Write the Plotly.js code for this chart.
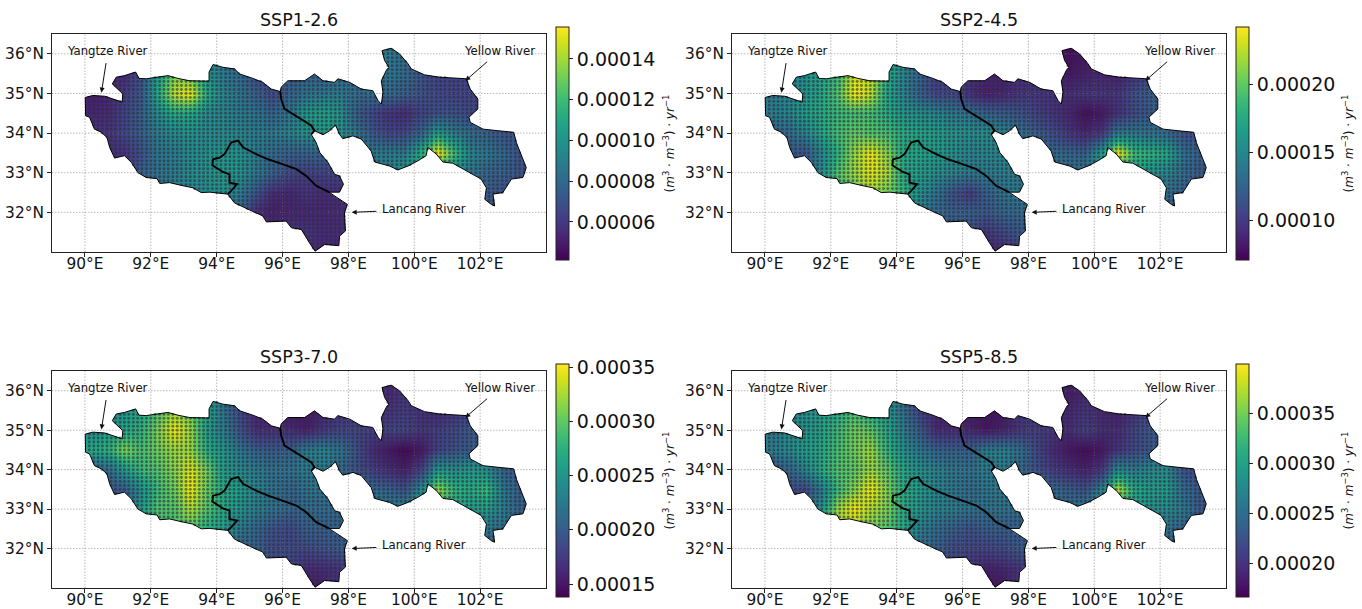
<!DOCTYPE html>
<html>
<head>
<meta charset="utf-8">
<script src="https://cdn.plot.ly/plotly-3.0.1.min.js"></script>
<style>html,body{margin:0;padding:0;background:#fff}#chart{width:1362px;height:609px}</style>
</head>
<body>
<div id="chart"></div>
<script>
var titles = ['SSP1-2.6','SSP2-4.5','SSP3-7.0','SSP5-8.5'];
var xTicks = [90,92,94,96,98,100,102];
var xLabels = ['90°E','92°E','94°E','96°E','98°E','100°E','102°E'];
var yTicks = [32,33,34,35,36];
var yLabels = ['32°N','33°N','34°N','35°N','36°N'];
var lonRange = [89,104];
var latRange = [31,36.5];

var cellLon = [90.2,90.7,91.2,91.7,92.2,92.7,93.2,93.7,94.2,94.7,95.2,95.7,96.2,96.7,97.2,97.7,98.2,98.7,99.2,99.7,100.2,100.7,101.2,101.7,102.2,102.7,103.2,103.7];
var cellLat = [31,31.5,32,32.5,33,33.5,34,34.5,35,35.5,36];

// values in units of 1e-5 (m3 m-3 yr-1), rows from south to north
var ssp126 = [
[8,8,8,8,8,8,8,8,8,8,7,6,5.8,5.5,5.3,5.5,6,7,7,7,7,7,7,7,7,7,7,7],
[8,8,8,8,8,8,8,8,8,8,7,5.8,5.8,5.8,5.5,5.5,6,7,7,7,7,7,7,7,7,7,7,7],
[8.5,9,9,9,9,9,9,9,9,7.6,5.5,5,5.3,5.3,5.3,5.5,5.5,6,7,7,7,7,7,7,7,7,7,7],
[5.5,5.5,6,7.5,8.5,9,9.3,9.6,9.9,8.9,7,5.5,5.3,5.8,5.5,5.5,6,7,8,9,9,9,8.7,8,7.3,7,7,7],
[5.5,5.5,6,7.6,8.5,8.9,9.6,9.9,10.1,9.9,8.7,7.6,6.6,6.2,6.4,6.6,7.5,8.5,8.9,10.4,9.9,11,9.3,8.7,7.8,7.6,7,7],
[5.5,5.5,5.7,7,8.5,8.9,9.6,9.9,10.1,9.9,8.9,8.1,7.6,7.8,7.8,8,8.5,8.9,8.9,8.9,11.5,15.5,12,9.3,8.7,7.9,7,7],
[5.8,5.8,6.6,7.6,8.9,9.6,9.9,9.6,9.5,9.3,8.9,8.9,9.3,9.9,10.2,10,8.7,7.3,6.4,6.6,7.8,10.5,8.9,8.1,7.6,7,7,7],
[5.3,5.5,6.4,7.6,9.6,11.2,11,9.6,9.3,8.9,8.5,7.8,8.7,10.2,10.6,10.2,7.6,6.6,5.8,5.5,6.4,7,7,6.6,6.4,6.4,6.4,6.4],
[5,5.3,6.2,7.3,11,14.4,15.2,11,9.3,8.5,7.6,6.6,7.8,8.5,8.7,8.9,8.1,8.1,8.1,7.6,7,6.6,6.4,6.4,6.4,6.4,6.4,6.4],
[5.3,5.3,5.5,7,10.4,13.3,12.7,9.9,8.7,8.1,6.7,6.6,7.3,7.6,7.6,8,8.1,8.5,8.7,8.1,7,6.4,6.4,6.4,6.4,6.4,6.4,6.4],
[5.3,5.5,6,7,10,13,12.5,9.9,8.7,8.1,7,7,7.5,7.6,7.6,8,8,8.5,8.7,8.1,7,6.4,6.4,6.4,6.4,6.4,6.4,6.4]
];
var ssp245 = [
[14,14,14,14,14,14,14,14,14,14,13,12,11,8.4,8.8,10,11,12,12,12,12,12,12,12,12,12,12,12],
[14,14,14,14,14,14,14,14,14,14,13,12,11.3,9.6,10.8,11.8,12,12,12,12,12,12,12,12,12,12,12,12],
[18,18,18,18,18,18,18,18,17,14,13,12.2,12.2,11.8,12.6,13,13,13,13,13,13,13,13,13,12.2,12,12,12],
[15,16,17,18,19,20,21.6,20.4,18.2,15.6,13.5,11.3,10,12.2,13.5,14,14,14,14,14,14,14,14,14,13,12.2,12,12],
[11,11,12,15.6,19.5,21.6,23.4,22,17.3,16.5,15.6,14.8,14,14.3,14.3,14.3,14,14,13,14,15,17,16.5,15.6,14.8,13,11.8,11.8],
[12,12,11.3,15,18,21.5,23.6,21,17.3,17,16.5,15.6,14.8,14.8,15,15,14,13,12.7,12.2,16.5,24,18.7,18.2,17.3,13.5,12.2,12.2],
[12.2,13,14.8,17.3,19,20,19.5,19,17.6,17,16.5,16,15.6,15.6,14.8,13.5,12,11,9.6,8.8,9.6,14,14,13.5,13,11.3,10.5,10.5],
[14.3,15,16.5,17.5,18.5,19,19,17.5,16,15.6,15,14,13.5,12.5,12,11.5,10.5,9.6,8.8,7.5,8,9.5,11,12,12,12,12,12],
[14,14.8,16,17.3,19.5,23.8,22.5,17,14.8,12.2,10.5,10.8,9.3,8.4,8.8,9.6,9.6,9.3,9.2,9.6,9.6,9.6,11.3,12.2,12,12,12,12],
[14,14.5,15.6,17,18.5,23,22.5,17.5,14.8,12.5,10,10,9.5,8.8,8.5,9,9,9,8,8.5,8.8,8.5,9.6,10.5,10,10,10,10],
[14,14,15,16,18,21,20,17,15,13,11,10,9,8.5,8.5,9,9,9,7.5,8,8.8,8.8,9,10,10,10,10,10]
];
var ssp370 = [
[25,25,25,25,25,25,25,25,25,24,22,20,18,15,15.5,17,19,20,20,20,20,20,20,20,20,20,20,20],
[25,25,25,25,25,25,25,25,25,24,22,20,18,16.4,16.4,17,19,20,20,20,20,20,20,20,20,20,20,20],
[25,26,27,28,28,28,28,28,26,20.7,20.3,18.5,18.5,18.5,19.2,19.8,20,20,20,21,21,21,21,21,20.3,20,20,20],
[24,25,26,27,28,29,29.4,27,26,22.4,20.7,19.2,18.5,20.3,20.3,20.3,21,21,22,23,24,25,24,23,22.4,21.3,20,20],
[20,20,21,25.6,29.4,29.4,32.7,29.4,26.7,25,22.8,22,20.7,21.3,21.3,21.3,22,23,22.8,23.5,25,28,26.7,25.6,25.6,22.8,20.3,20.3],
[20,19,19.8,24.5,28.4,30.5,34.6,30,26.7,25.6,23.5,22,20.7,22,22.4,22.4,22,21.3,20.7,19.2,24.5,32,27.8,27,28.4,22.4,20.3,20.3],
[20,21.3,25.6,28.4,29.4,31.4,34,30.5,25.6,24,22.8,22,22,22.8,22.8,21.3,19.2,17.7,16.4,15.5,18,25.6,24.5,25.6,24.5,20.3,19.2,19.2],
[26.7,27.8,31,28.9,30.5,32,32,27,25,22.4,20.3,20,20.3,22.8,23.5,22.4,19.2,16.4,15,14,15,18,19.2,20,20,20,20,20],
[24.5,25.6,26.7,27.8,31,34.7,32,25.6,22.8,19.2,16.4,16.6,16.4,15.5,17,18.1,18,17.7,18,18.1,17,17.7,18.5,19.8,20,20,20,20],
[22,23,25,26.5,29,32,30,26,22,18.5,16,15.5,15,15,16,17,17,16.5,17,17.5,16.5,16,17,18,18,18,18,18],
[22,23,24,26,29,32,31,26,22,19,16,15,14.9,15,16,17,17,16.5,16,17,17,17,17,17,17,17,17,17]
];
var ssp585 = [
[28,28,28,28,28,28,28,28,28,26,24,22,20,17.3,17.8,20,22,23,23,23,23,23,23,23,23,23,23,23],
[28,28,28,28,28,28,28,28,28,26,24,22,20,18.5,19,20,22,23,23,23,23,23,23,23,23,23,23,23],
[30,30,30,30,30,30,30,30,28,24.8,23.6,21.7,21.3,21.3,21.7,23,23,23,24,24,24,24,24,24,23.6,23,23,23],
[30,32,34,36,37,36,34.8,33.4,30.6,26.4,24.8,23.6,22.4,23.6,23.6,23.6,24,25,25,26,27,27,27,26,25.5,24,23,23],
[22,22,24,28.7,36.4,39.4,37,35.2,31,28.7,27,26.4,25.4,25.4,25.4,25.4,25.5,25.5,24.8,26.4,28,30,29.4,28.3,27.8,25.9,23,23],
[22,22,21.3,26.4,32.4,35.7,39.2,35.2,31,29.4,27,25.9,24.8,25.9,26.4,26.4,25.5,24.8,23.6,22.4,27,37.6,30.6,29.4,29.4,24.8,23,23],
[22.4,24,27,31,33.4,34,36.4,34,30.6,28.3,27,25.9,25.4,26.4,26.4,24.8,22.4,20.8,19.4,18.5,20,27.8,26.4,27.8,27.8,22.4,21.3,21.3],
[26.4,27.8,29.4,30.6,32.9,34.8,36.4,31.7,28.3,25.9,24,23.6,23.6,26.4,27,25.5,21.7,19.4,17.8,17.1,17.8,20,21.7,23,23,23,23,23],
[25.9,27.8,28.7,30.1,32.4,34.8,34,30.6,26.4,23,19,19.4,19,17.8,18.5,20,20.8,20.1,19.4,20.8,19.4,19.4,21.3,23,23,23,23,23],
[25,26,28,29.4,31,33,31,29,25,21,19,18,17.8,17.5,18,20,20,19,19,20,19,18.5,20,22,22,22,22,22],
[25,26,27,28,30,32,31,28,25,22,19,18,18,18,18.5,20,20,19,18,19,19,19,20,20,20,20,20,20]
];
var allFields = [ssp126, ssp245, ssp370, ssp585];
var zMins = [4.13e-5, 7.06e-5, 13.8e-5, 16.6e-5];
var zMaxs = [15.57e-5, 24.2e-5, 35.3e-5, 39.9e-5];
var barTicks = [
  [0.00006,0.00008,0.00010,0.00012,0.00014],
  [0.00010,0.00015,0.00020],
  [0.00015,0.00020,0.00025,0.00030,0.00035],
  [0.00020,0.00025,0.00030,0.00035]
];

// basin boundary, outer ring, lon/lat
var outerLon = [90.01,90.24,90.60,90.95,91.13,91.15,91.00,90.83,90.95,91.20,91.54,91.64,91.86,92.17,92.52,92.82,93.18,93.77,93.77,93.89,94.19,94.54,94.70,95.10,95.40,95.66,95.93,
95.96,96.16,96.47,96.67,96.97,97.23,97.58,97.68,98.04,98.39,98.74,98.90,99.00,99.05,99.00,99.15,99.23,99.10,99.02,99.30,99.55,99.81,99.91,100.31,100.77,101.58,101.70,101.93,101.93,101.66,101.70,102.09,102.54,103.02,103.10,103.25,103.40,103.30,102.95,102.69,102.39,102.44,102.34,102.14,102.19,102.03,101.58,101.17,100.87,100.67,100.41,100.36,100.11,99.81,99.50,99.25,98.80,98.69,98.39,98.14,97.83,97.73,97.61,97.43,97.23,96.97,
96.87,97.02,97.13,97.38,97.58,97.73,97.85,97.73,97.41,
97.68,97.97,97.88,97.91,97.73,97.71,97.28,96.99,96.82,96.57,96.27,96.11,95.51,95.40,95.00,94.54,94.34,94.14,93.79,93.53,93.28,92.93,92.57,92.27,92.19,91.86,91.61,91.41,91.20,90.90,90.75,90.67,90.50,90.29,90.14,90.02,90.01];
var outerLat = [34.90,34.95,34.93,34.84,34.78,34.99,35.11,35.24,35.41,35.45,35.54,35.38,35.37,35.41,35.45,35.38,35.32,35.31,35.54,35.73,35.66,35.62,35.49,35.38,35.28,35.11,35.05,
35.16,35.32,35.32,35.32,35.49,35.32,35.28,35.37,35.28,35.11,35.07,34.82,34.73,35.03,35.32,35.58,35.66,35.83,36.08,36.14,36.00,35.75,35.62,35.47,35.41,35.37,35.11,34.86,34.61,34.40,34.27,34.10,34.06,34.02,33.76,33.43,33.13,32.88,32.84,32.50,32.46,32.16,32.20,32.33,32.62,32.84,33.05,33.24,33.27,33.47,33.64,33.43,33.30,33.17,33.07,33.17,33.27,33.55,33.85,33.93,33.86,33.97,34.20,34.06,33.96,34.06,
33.97,33.76,33.51,33.26,32.96,32.92,32.71,32.51,32.51,
32.35,32.20,31.99,31.53,31.40,31.16,31.19,31.02,31.23,31.57,31.61,31.78,31.76,31.91,32.06,32.24,32.46,32.48,32.51,32.50,32.62,32.68,32.75,32.73,32.85,32.88,33.00,33.26,33.43,33.37,33.64,33.89,34.02,34.10,34.40,34.44,34.90];

// divide between Yangtze and Yellow
var divideALon = [95.93,95.96,96.06,96.32,96.67,96.87,96.97,96.87];
var divideALat = [35.05,34.86,34.61,34.48,34.31,34.19,34.06,33.97];
// divide between Yangtze and Lancang
var divideBLon = [97.41,97.23,97.02,96.72,96.42,95.91,95.56,95.20,94.80,94.65,94.44,94.24,94.09,93.89,93.87,94.19,94.39,94.39,94.62,94.44,94.34];
var divideBLat = [32.51,32.58,32.67,32.92,33.09,33.24,33.34,33.47,33.64,33.81,33.76,33.47,33.38,33.34,33.19,33.02,32.96,32.75,32.71,32.54,32.46];

// significance stippling lattice
var dotLon = [90.00,90.13,90.27,90.40,90.53,90.67,90.80,90.93,91.07,91.20,91.33,91.47,91.60,91.73,91.87,92.00,92.13,92.27,92.40,92.53,92.67,92.80,92.93,93.07,93.20,93.33,93.47,93.60,93.73,93.87,94.00,94.13,94.27,94.40,94.53,94.67,94.80,94.93,95.07,95.20,95.33,95.47,95.60,95.73,95.87,96.00,96.13,96.27,96.40,96.53,96.67,96.80,96.93,97.07,97.20,97.33,97.47,97.60,97.73,97.87,98.00,98.13,98.27,98.40,98.53,98.67,98.80,98.93,99.07,99.20,99.33,99.47,99.60,99.73,99.87,100.00,100.13,100.27,100.40,100.53,100.67,100.80,100.93,101.07,101.20,101.33,101.47,101.60,101.73,101.87,102.00,102.13,102.27,102.40,102.53,102.67,102.80,102.93,103.07,103.20,103.33,103.47];
var dotLat = [31.0,31.1,31.2,31.3,31.4,31.5,31.6,31.7,31.8,31.9,32.0,32.1,32.2,32.3,32.4,32.5,32.6,32.7,32.8,32.9,33.0,33.1,33.2,33.3,33.4,33.5,33.6,33.7,33.8,33.9,34.0,34.1,34.2,34.3,34.4,34.5,34.6,34.7,34.8,34.9,35.0,35.1,35.2,35.3,35.4,35.5,35.6,35.7,35.8,35.9,36.0,36.1];

// river labels and the points their arrows mark
var riverNames = ['Yangtze River','Yellow River','Lancang River'];
var riverTextLon = [90.7,102.6,100.29];
var riverTextLat = [36.08,36.08,32.08];
var riverHeadLon = [90.5,101.55,98.1];
var riverHeadLat = [35.02,35.32,32.0];

// panel frames in pixels
var W = 1362, H = 609;
var panelLeft = [52,732,52,732], panelRight = [546,1226,546,1226];
var panelTop = [34,34,371,371], panelBottom = [252,252,588,588];
var barLeft = [556,1236,556,1236], barTop = [27,27,364,364], barLen = [233,233,233,233];
var unitLeft = [668,1347,668,1347];

function inside(x,y){
  var c=false,n=outerLon.length;
  for(var i=0,j=n-1;i<n;j=i++){
    if((outerLat[i]>y)!==(outerLat[j]>y) && x<(outerLon[j]-outerLon[i])*(y-outerLat[i])/(outerLat[j]-outerLat[i])+outerLon[i]) c=!c;
  }
  return c;
}
var keptLon=[],keptLat=[];
dotLon.forEach(function(x){dotLat.forEach(function(y){ if(inside(x,y)){keptLon.push(x);keptLat.push(y);} });});

// white mask: frame ring joined to the reversed basin ring
var startLat = outerLat[0];
var maskLon = [lonRange[0],lonRange[0],lonRange[1],lonRange[1],lonRange[0],lonRange[0]].concat(outerLon.slice().reverse()).concat([lonRange[0]]);
var maskLat = [startLat,latRange[1],latRange[1],latRange[0],latRange[0],startLat].concat(outerLat.slice().reverse()).concat([startLat]);

var gridX=[],gridY=[];
xTicks.forEach(function(v){gridX.push(v,v,null);gridY.push(latRange[0],latRange[1],null);});
yTicks.forEach(function(v){gridX.push(lonRange[0],lonRange[1],null);gridY.push(v,v,null);});

var data=[], annotations=[], layout={
  width:W,height:H,margin:{l:0,r:0,t:0,b:0},paper_bgcolor:'#fff',plot_bgcolor:'#fff',
  showlegend:false,font:{family:'DejaVu Sans',color:'#000'}
};
var unitText='(<i>m</i><sup>3</sup> · <i>m</i><sup>−3</sup>) · <i>yr</i><sup>−1</sup>';

titles.forEach(function(t,p){
  var n=p+1, xa='x'+(p?n:''), ya='y'+(p?n:'');
  layout['xaxis'+(p?n:'')]={domain:[panelLeft[p]/W,panelRight[p]/W],anchor:ya,range:lonRange,tickvals:xTicks,ticktext:xLabels,
    showgrid:false,zeroline:false,showline:true,mirror:true,linecolor:'#222',linewidth:1,ticks:'outside',ticklen:4,tickcolor:'#222',ticklabelstandoff:-6,tickfont:{size:15.4,family:'DejaVu Sans',color:'#111'}};
  layout['yaxis'+(p?n:'')]={domain:[1-panelBottom[p]/H,1-panelTop[p]/H],anchor:xa,range:latRange,tickvals:yTicks,ticktext:yLabels,
    showgrid:false,zeroline:false,showline:true,mirror:true,linecolor:'#222',linewidth:1,ticks:'outside',ticklen:4,tickcolor:'#222',tickfont:{size:15.4,family:'DejaVu Sans',color:'#111'}};
  data.push({type:'heatmap',x:cellLon,y:cellLat,z:allFields[p].map(function(r){return r.map(function(v){return v*1e-5;});}),
    xaxis:xa,yaxis:ya,zsmooth:'best',colorscale:'Viridis',zmin:zMins[p],zmax:zMaxs[p],hoverinfo:'skip',
    colorbar:{x:barLeft[p]/W,xanchor:'left',xpad:0,y:1-barTop[p]/H,yanchor:'top',ypad:0,thickness:13,thicknessmode:'pixels',len:barLen[p],lenmode:'pixels',
      tickmode:'array',tickvals:barTicks[p],ticktext:barTicks[p].map(function(v){return v.toFixed(5);}),
      ticks:'outside',ticklen:4,tickcolor:'#222',tickfont:{size:19,family:'DejaVu Sans',color:'#111'},outlinecolor:'#222',outlinewidth:1}});
  data.push({type:'scatter',mode:'lines',x:maskLon,y:maskLat,xaxis:xa,yaxis:ya,fill:'toself',fillcolor:'#fff',line:{width:0,color:'#fff'},hoverinfo:'skip'});
  data.push({type:'scatter',mode:'lines',x:gridX,y:gridY,xaxis:xa,yaxis:ya,line:{color:'rgba(130,130,130,0.7)',width:0.8,dash:'1.5px,1.5px'},hoverinfo:'skip'});
  data.push({type:'scatter',mode:'markers',x:keptLon,y:keptLat,xaxis:xa,yaxis:ya,marker:{symbol:'circle',size:2.9,color:'rgba(45,45,55,0.62)',line:{width:0}},hoverinfo:'skip'});
  data.push({type:'scatter',mode:'lines',x:outerLon,y:outerLat,xaxis:xa,yaxis:ya,line:{color:'#000',width:1},hoverinfo:'skip'});
  data.push({type:'scatter',mode:'lines',x:divideALon,y:divideALat,xaxis:xa,yaxis:ya,line:{color:'#000',width:1.9},hoverinfo:'skip'});
  data.push({type:'scatter',mode:'lines',x:divideBLon,y:divideBLat,xaxis:xa,yaxis:ya,line:{color:'#000',width:1.9},hoverinfo:'skip'});
  annotations.push({xref:'paper',yref:'paper',x:(panelLeft[p]+panelRight[p])/2/W,y:1-(panelTop[p]-2)/H,xanchor:'center',yanchor:'bottom',showarrow:false,text:t,font:{size:17.5,family:'DejaVu Sans',color:'#111'}});
  annotations.push({xref:'paper',yref:'paper',x:unitLeft[p]/W,y:1-(barTop[p]+barLen[p]/2)/H,xanchor:'center',yanchor:'middle',showarrow:false,textangle:-90,text:unitText,font:{size:12,family:'DejaVu Sans',color:'#111'}});
  riverNames.forEach(function(name,i){
    annotations.push({xref:xa,yref:ya,x:riverHeadLon[i],y:riverHeadLat[i],axref:xa,ayref:ya,ax:riverTextLon[i],ay:riverTextLat[i],text:name,font:{size:11.7,family:'DejaVu Sans',color:'#111'},showarrow:true,arrowhead:2,arrowsize:1,arrowwidth:1,arrowcolor:'#111',standoff:0,startstandoff:4});
  });
});
layout.annotations=annotations;
Plotly.newPlot('chart',data,layout,{displayModeBar:false,responsive:false,staticPlot:true});
</script>
</body>
</html>
